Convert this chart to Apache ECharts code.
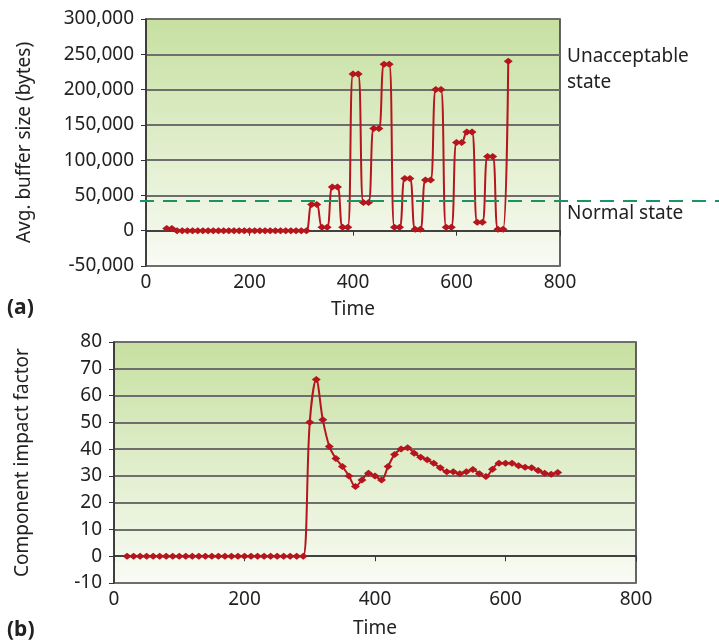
<!DOCTYPE html>
<html><head><meta charset="utf-8">
<script src="https://cdn.jsdelivr.net/npm/echarts@6/dist/echarts.min.js"></script>
<style>html,body{margin:0;padding:0;background:#fff}#c{width:719px;height:641px}</style>
</head><body><div id="c"></div>
<script>
// (a) buffer size
const timeA = [40,50,60,70,80,90,100,110,120,130,140,150,160,170,180,190,200,210,220,230,240,250,260,270,280,290,300,310,
  320,330,340,350,360,370,380,390,400,410,420,430,440,450,460,470,480,490,500,510,520,530,540,550,560,570,580,590,600,610,620,630,640,650,660,670,680,690,700];
const bufferA = [3000,3000,0,0,0,0,0,0,0,0,0,0,0,0,0,0,0,0,0,0,0,0,0,0,0,0,0,0,
  37000,37000,5000,5000,62000,62000,5000,5000,222000,222000,40000,40000,145000,145000,236000,236000,5000,5000,74000,74000,2000,2000,72000,72000,200000,200000,5000,5000,125000,125000,140000,140000,12000,12000,105000,105000,2000,2000,240000];
const thresholdA = 42000;
const yTicksA = [-50000, 300000, 50000];
// (b) component impact factor
const timeB = [20,30,40,50,60,70,80,90,100,110,120,130,140,150,160,170,180,190,200,210,220,230,240,250,260,270,280,290,
  300,310,320,330,340,350,360,370,380,390,400,410,420,430,440,450,460,470,480,490,500,510,520,530,540,550,560,570,580,590,600,610,620,630,640,650,660,670,680];
const impactB = [0,0,0,0,0,0,0,0,0,0,0,0,0,0,0,0,0,0,0,0,0,0,0,0,0,0,0,0,
  50,66,51,41,36.5,33.5,30,26,28.5,31,30,28.5,33.5,38,40,40.5,38.5,37,36,34.7,33,31.5,31.5,30.8,31.5,32.4,30.8,29.8,32.5,34.7,34.7,34.7,33.8,33.2,33,32,31,30.6,31.3];

const FONT = '"Noto Sans", "Open Sans", sans-serif';
const RED = '#b5151c';
const bg = {type:'linear',x:0,y:0,x2:0,y2:1,colorStops:[{offset:0,color:'#c6e0a0'},{offset:1,color:'#f9fbf5'}]};
const axisText = {color:'#222', fontSize:19, fontFamily:FONT};
const nameText = {color:'#222', fontSize:19, fontFamily:FONT};

const chart = echarts.init(document.getElementById('c'));
function xAxisCfg(gi, gap){
  return {type:'value', gridIndex:gi, min:0, max:800, interval:200, name:'Time', nameLocation:'middle', nameGap:gap,
    nameTextStyle:nameText, axisLabel:Object.assign({margin:7},axisText),
    axisLine:{lineStyle:{color:'#333',width:1.5}}, axisTick:{length:5,lineStyle:{color:'#333'}}, splitLine:{show:false}};
}
chart.setOption({
  animation:false,
  grid:[
    {left:146,right:159,top:19,bottom:375,show:true,backgroundColor:bg,borderColor:'#333',borderWidth:1.5},
    {left:114,right:83,top:342,bottom:58,show:true,backgroundColor:bg,borderColor:'#333',borderWidth:1.5}
  ],
  xAxis:[xAxisCfg(0,34), xAxisCfg(1,36)],
  yAxis:[
    {type:'value',gridIndex:0,min:yTicksA[0],max:yTicksA[1],interval:yTicksA[2],name:'Avg. buffer size (bytes)',nameLocation:'middle',nameGap:112,
     nameTextStyle:nameText, axisLabel:Object.assign({margin:12,formatter:v=>v.toLocaleString('en-US')},axisText),
     axisLine:{show:true,lineStyle:{color:'#333',width:1.5}}, axisTick:{show:true,length:5,lineStyle:{color:'#333'}},
     splitLine:{lineStyle:{color:'#6e6e6e',width:2}}},
    {type:'value',gridIndex:1,min:-10,max:80,interval:10,name:'Component impact factor',nameLocation:'middle',nameGap:82,
     nameTextStyle:nameText, axisLabel:Object.assign({margin:12},axisText),
     axisLine:{show:true,lineStyle:{color:'#333',width:1.5}}, axisTick:{show:true,length:5,lineStyle:{color:'#333'}},
     splitLine:{lineStyle:{color:'#6e6e6e',width:2}}}
  ],
  series:[
    {type:'line',xAxisIndex:0,yAxisIndex:0,data:timeA.map((t,i)=>[t,bufferA[i]]),smooth:0.35,symbol:'diamond',symbolSize:[9,7],
     lineStyle:{color:RED,width:2},itemStyle:{color:RED},z:5},
    {type:'line',xAxisIndex:1,yAxisIndex:1,data:timeB.map((t,i)=>[t,impactB[i]]),smooth:0.35,symbol:'diamond',symbolSize:[9,7],
     lineStyle:{color:RED,width:2},itemStyle:{color:RED},z:5}
  ]
});
const yThr = chart.convertToPixel({gridIndex:0}, [0, thresholdA])[1];
const x0 = chart.convertToPixel({gridIndex:0}, [0, 0])[0];
chart.setOption({graphic:[
  {type:'line',shape:{x1:x0-6,y1:yThr,x2:719,y2:yThr},style:{stroke:'#1a9460',lineWidth:2,lineDash:[14,9]},z:10},
  {type:'text',left:567,top:44,style:{text:'Unacceptable\nstate',font:'19px '+FONT,fill:'#222',lineHeight:26}},
  {type:'text',left:567,top:204,style:{text:'Normal state',font:'19px '+FONT,fill:'#222'}},
  {type:'text',left:7,top:298,style:{text:'(a)',font:'bold 21px '+FONT,fill:'#222'}},
  {type:'text',left:7,top:620,style:{text:'(b)',font:'bold 21px '+FONT,fill:'#222'}}
]});
</script></body></html>
